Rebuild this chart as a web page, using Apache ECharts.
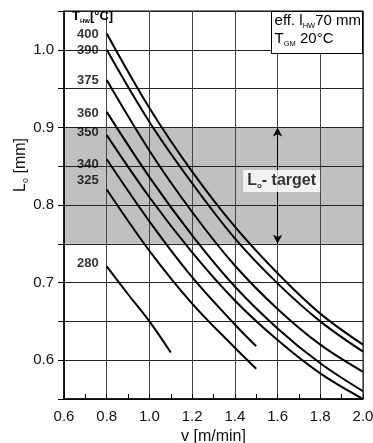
<!DOCTYPE html>
<html><head><meta charset="utf-8">
<script src="https://cdn.jsdelivr.net/npm/echarts@6/dist/echarts.min.js"></script>
<style>html,body{margin:0;padding:0;background:#fff}#c{width:373px;height:443px}</style>
</head><body><div id="c"></div>
<script>
// ---- data ----
const temps = ['400','390','375','360','350','340','325','280'];
const vLong = [0.8, 1.0, 1.2, 1.4, 1.6, 1.8, 2.0];
const vShort = [0.8, 1.0, 1.2, 1.4, 1.5];
const vLow = [0.8, 0.9, 1.0, 1.1];
const L400 = [1.021, 0.925, 0.843, 0.772, 0.712, 0.660, 0.620];
const L390 = [1.000, 0.907, 0.828, 0.757, 0.699, 0.650, 0.611];
const L375 = [0.961, 0.870, 0.791, 0.722, 0.666, 0.620, 0.585];
const L360 = [0.920, 0.836, 0.761, 0.695, 0.641, 0.596, 0.560];
const L350 = [0.890, 0.810, 0.739, 0.677, 0.626, 0.583, 0.550];
const L340 = [0.859, 0.779, 0.707, 0.646, 0.618];
const L325 = [0.820, 0.741, 0.673, 0.616, 0.589];
const L280 = [0.721, 0.685, 0.650, 0.610];
const targetRange = [0.75, 0.90];
const xTicks = ['0.6','0.8','1.0','1.2','1.4','1.6','1.8','2.0'];
const yTicks = ['0.6','0.7','0.8','0.9','1.0'];

const curves = [
  [vLong, L400], [vLong, L390], [vLong, L375], [vLong, L360], [vLong, L350],
  [vShort, L340], [vShort, L325], [vLow, L280]
];
const labelOffsets = [[0,1],[0,1],[0,0],[0,2],[0,-3],[0,5],[0,-9],[0,-3]];

const FONT = 'Liberation Sans, Arial, sans-serif';
const chart = echarts.init(document.getElementById('c'), null, {renderer: 'canvas'});

const series = [];
// target band (under grid lines)
series.push({
  type: 'line', data: [], z: -1, silent: true,
  markArea: {
    silent: true, z: -1,
    itemStyle: {color: '#c0c0c0'},
    data: [[{yAxis: targetRange[0]}, {yAxis: targetRange[1]}]]
  }
});
curves.forEach((c, i) => {
  series.push({
    type: 'line', name: temps[i], smooth: 0.35, symbol: 'none', z: 3,
    lineStyle: {color: '#000', width: 2},
    data: c[0].map((v, j) => [v, c[1][j]])
  });
});
// curve labels at the start points
series.push({
  type: 'scatter', symbolSize: 0, z: 4, silent: true,
  data: curves.map((c, i) => ({
    value: [c[0][0], c[1][0]],
    label: {show: true, position: 'left', distance: 8, offset: labelOffsets[i],
            formatter: temps[i], fontFamily: FONT, fontWeight: 'bold', fontSize: 13, color: '#000'}
  }))
});
// target arrow and label
series.push({
  type: 'line', data: [], silent: true, z: 3,
  markLine: {
    silent: true, symbol: ['arrow', 'arrow'], symbolSize: [7, 9],
    lineStyle: {color: '#000', width: 1, type: 'solid'},
    label: {show: false},
    data: [[{coord: [1.6, targetRange[1]]}, {coord: [1.6, targetRange[0]]}]]
  }
});
series.push({
  type: 'scatter', symbolSize: 0, z: 5, silent: true,
  data: [{
    value: [1.619, 0.831],
    label: {
      show: true, position: 'inside',
      formatter: '{a|L}{s|o}{a|- target}',
      backgroundColor: '#fff', padding: [2, 4, 2, 4],
      rich: {
        a: {fontFamily: FONT, fontWeight: 'bold', fontSize: 16, color: '#000', lineHeight: 18},
        s: {fontFamily: FONT, fontWeight: 'bold', fontSize: 8, color: '#000', verticalAlign: 'bottom', lineHeight: 18, padding: [8,0,0,0]}
      }
    }
  }]
});

chart.setOption({
  animation: false,
  grid: {left: 64, right: 10, top: 11, bottom: 44, containLabel: false, outerBoundsMode: 'none',
         show: true, borderColor: '#000', borderWidth: 1},
  xAxis: {
    type: 'value', min: 0.6, max: 2.0, interval: 0.2,
    axisLine: {show: true, onZero: false, lineStyle: {color: '#000', width: 1.5}},
    axisTick: {show: true, inside: true, length: 5, lineStyle: {color: '#000'}},
    minorTick: {show: true, splitNumber: 2, length: 5, lineStyle: {color: '#000'}},
    splitLine: {show: true, lineStyle: {color: '#444', width: 1}},
    axisLabel: {
      margin: 10, fontFamily: FONT, fontSize: 15, color: '#111',
      formatter: v => { const s = v.toFixed(1); return xTicks.includes(s) ? s : ''; }
    },
    name: 'v [m/min]', nameLocation: 'middle', nameGap: 30,
    nameTextStyle: {fontFamily: FONT, fontSize: 16, color: '#111'}
  },
  yAxis: {
    type: 'value', min: 0.55, max: 1.05, interval: 0.05,
    axisLine: {show: true, onZero: false, lineStyle: {color: '#000', width: 1.5}},
    axisTick: {show: true, inside: false, length: 6, lineStyle: {color: '#000'}},
    splitLine: {show: true, lineStyle: {color: '#222', width: 1}},
    axisLabel: {
      margin: 10, fontFamily: FONT, fontSize: 15, color: '#111',
      formatter: v => { const t = v.toFixed(1);
        return (Math.abs(v*10 - Math.round(v*10)) < 1e-6 && yTicks.includes(t)) ? t : ''; }
    }
  },
  series: series,
  graphic: [
    {
      type: 'text', left: 13, top: 138, rotation: Math.PI / 2, silent: true, z: 100,
      style: {
        text: '{a|L}{s|o}{a| [mm]}', fill: '#111',
        rich: {
          a: {fontFamily: FONT, fontSize: 16, lineHeight: 18, fill: '#111'},
          s: {fontFamily: FONT, fontSize: 9, lineHeight: 18, fill: '#111', verticalAlign: 'bottom', padding: [8,0,0,0]}
        }
      }
    },
    {
      type: 'text', left: 72, top: 10, silent: true, z: 100,
      style: {
        text: '{a|T}{s|HW}{a|[°C]}',
        rich: {
          a: {fontFamily: FONT, fontWeight: 'bold', fontSize: 13, lineHeight: 15, fill: '#000'},
          s: {fontFamily: FONT, fontWeight: 'bold', fontSize: 6, lineHeight: 15, fill: '#000', verticalAlign: 'bottom', padding: [7,0,0,0]}
        }
      }
    },
    {
      type: 'rect', right: 10, top: 11, z: 100, silent: true,
      shape: {x: 0, y: 0, width: 91, height: 42},
      style: {fill: '#fff', stroke: '#000', lineWidth: 1}
    },
    {
      type: 'text', right: 12, top: 13, z: 101, silent: true,
      style: {
        text: '{a|eff. l}{s|HW}{a|70 mm}\n{a|T}{s|GM}{a| 20°C}',
        rich: {
          a: {fontFamily: FONT, fontSize: 15, lineHeight: 18, fill: '#000'},
          s: {fontFamily: FONT, fontSize: 7.5, lineHeight: 18, fill: '#000', verticalAlign: 'bottom', padding: [8,0,0,0]}
        }
      }
    }
  ]
});
</script></body></html>
